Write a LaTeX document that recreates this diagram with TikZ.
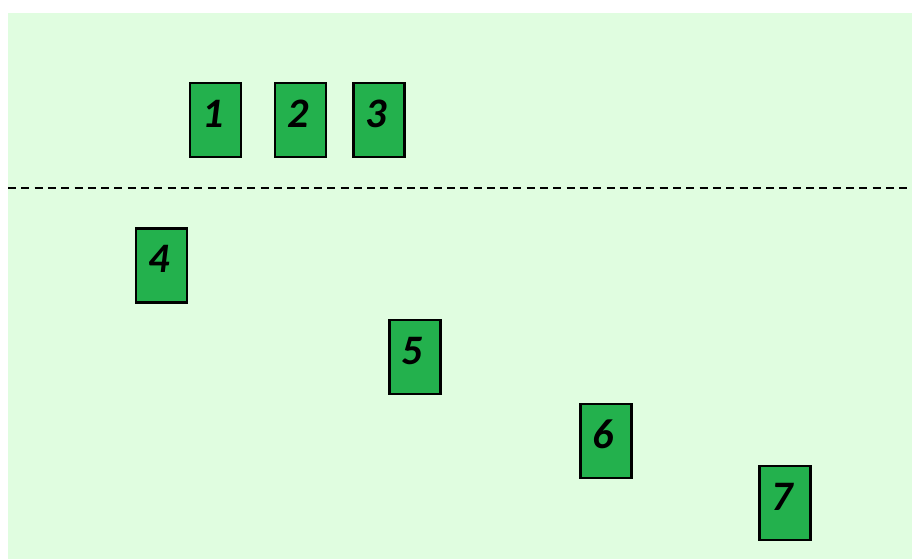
\documentclass[tikz,border=0pt]{standalone}
\usepackage{fontspec}
\setmainfont{Carlito}
\definecolor{bgGreen}{RGB}{224,253,224}
\definecolor{boxGreen}{RGB}{35,177,77}
\newcommand{\cardlabel}[1]{\raisebox{13pt}{#1}\hspace*{5pt}}
\begin{document}
\begin{tikzpicture}[x=1pt,y=-1pt,
  card/.style={draw=black, line width=2.2pt, fill=boxGreen, minimum width=51pt, minimum height=74pt, inner sep=0pt,
    font=\fontsize{42}{42}\selectfont\bfseries\itshape},
  divider/.style={dashed, dash pattern=on 8pt off 5.3pt, line width=2pt}]
\useasboundingbox (0,0) rectangle (912,559);
\fill[bgGreen] (8,13) rectangle (912,559);
\coordinate (dl) at (8,187.5);
\coordinate (dr) at (912,187.5);
\draw[divider] (dl) -- (dr);
\node[card] (n1) at (215.5,120) {\cardlabel{1}};
\node[card] (n2) at (300.5,120) {\cardlabel{2}};
\node[card] (n3) at (379,120) {\cardlabel{3}};
\node[card] (n4) at (161.5,265.5) {\cardlabel{4}};
\node[card] (n5) at (415,357) {\cardlabel{5}};
\node[card] (n6) at (606,441) {\cardlabel{6}};
\node[card] (n7) at (785,503) {\cardlabel{7}};
\end{tikzpicture}
\end{document}
